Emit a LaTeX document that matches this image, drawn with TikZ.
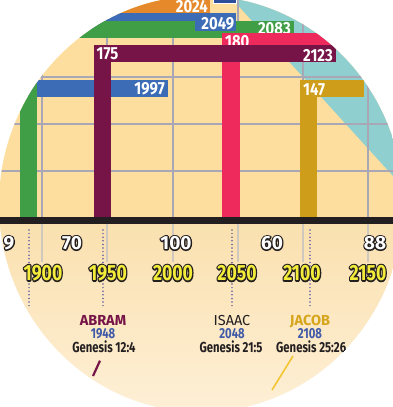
\documentclass[tikz,border=0pt]{standalone}
\usepackage{fontspec}
\setmainfont{Fira Sans}
\usetikzlibrary{calc}
\definecolor{peach}{HTML}{FDDE9E}
\definecolor{peachlow}{HTML}{FAE0AE}
\definecolor{peachbot}{HTML}{FEF0D8}
\definecolor{tealc}{HTML}{8FCFCF}
\definecolor{gridc}{HTML}{A9A6B6}
\definecolor{orangec}{HTML}{E5892B}
\definecolor{navyc}{HTML}{2E4D9B}
\definecolor{bluec}{HTML}{3C6CB6}
\definecolor{greenc}{HTML}{3F9E46}
\definecolor{redc}{HTML}{EE2A5C}
\definecolor{maroonc}{HTML}{761448}
\definecolor{goldc}{HTML}{CE9D1A}
\definecolor{axisc}{HTML}{231F20}
\definecolor{dotc}{HTML}{5C5AA6}
\definecolor{yearc}{HTML}{F3EC3A}
\definecolor{namebluec}{HTML}{3F5AA8}
\definecolor{jacobc}{HTML}{D6A51B}
\definecolor{jlinec}{HTML}{F2C531}
\definecolor{tickc}{HTML}{CFC8BE}
\newcommand{\cnd}[2][0.8]{\scalebox{#1}[1]{#2}}
% outlined text: #1 stroke width, #2 fill colour, #3 text
\newcommand{\outtxt}[3]{%
  \rlap{\textcolor{axisc}{\special{pdf:literal direct 1 j #1 w 2 Tr}#3\special{pdf:literal direct 0 Tr}}}%
  \textcolor{#2}{#3}%
}
\tikzset{
  bandlbl/.style={inner sep=0pt, text=white, font=\fontsize{17.5}{17.5}\selectfont\bfseries},
  agelbl/.style={inner sep=0pt, font=\fontsize{19}{19}\selectfont\bfseries},
  yearlbl/.style={inner sep=0pt, font=\fontsize{22}{22}\selectfont\bfseries},
  namelbl/.style={inner sep=0pt, text height=10pt, text depth=0pt, font=\fontsize{14.5}{14.5}\selectfont\bfseries},
  reflbl/.style={inner sep=0pt, text height=10pt, text depth=0pt, font=\fontsize{14.5}{14.5}\selectfont\bfseries, text=axisc},
  gridline/.style={gridc, line width=1.2pt},
  tickline/.style={tickc, line width=1.2pt},
  dotline/.style={dotc, line width=1.7pt, line cap=round, dash pattern=on 0pt off 3.6pt},
}
\begin{document}
\begin{tikzpicture}[x=1pt,y=-1pt]
\useasboundingbox (0,0) rectangle (393,407);
\fill[white] (0,0) rectangle (393,407);
\begin{scope}
\clip (201,204) ellipse [x radius=202, y radius=208];
% backgrounds
\fill[peach] (-10,-20) rectangle (410,220);
\shade[top color=peachlow,bottom color=peachbot] (-10,220) rectangle (410,420);
\fill[tealc] (215,-20) -- (233,0) -- (393,176) -- (430,216) -- (430,-20) -- cycle;
% grid
\foreach \gx in {42,107,173,238,303,368}{
  \draw[gridline] (\gx,-20) -- (\gx,217);
  \draw[tickline] (\gx,223.5) -- (\gx,262);
}
\foreach \gy in {77,124,171}{
  \draw[gridline] (-10,\gy) -- (410,\gy);
}
% bands
\fill[orangec] (-10,-20) rectangle (210,15);
\node[bandlbl, anchor=east] (l2024) at (208,7) {\cnd[0.85]{2024}};
\fill[navyc, draw=white, line width=0.8pt] (213,-20) rectangle (236,3);
\fill[bluec] (-10,13) rectangle (236,30);
\fill[bluec] (-10,80) rectangle (168,97);
\node[bandlbl, anchor=east] (l1997) at (165,89) {\cnd[0.85]{1997}};
\fill[greenc] (-10,21) rectangle (294,38);
\fill[greenc] (20,21) rectangle (37,217);
\node[bandlbl, anchor=east] (l2083) at (291,28.5) {\cnd[0.85]{2083}};
\fill[bluec] (195,15) rectangle (236,31);
\node[bandlbl, anchor=east] (l2049) at (234.5,23.5) {\cnd[0.85]{2049}};
\fill[redc] (222,33) rectangle (420,47);
\fill[redc] (222,33) rectangle (240,217);
\node[bandlbl, anchor=west] (l180) at (225,41.5) {\cnd[0.85]{180}};
\fill[maroonc] (94,45) rectangle (336,62);
\fill[maroonc] (94,45) rectangle (111,217);
\node[bandlbl, anchor=west] (l175) at (96.5,54) {\cnd[0.85]{175}};
\node[bandlbl, anchor=east] (l2123) at (333,56) {\cnd[0.85]{2123}};
\fill[goldc] (300,80) rectangle (364,97);
\fill[goldc] (300,80) rectangle (317,217);
\node[bandlbl, anchor=west] (l147) at (303,89.5) {\cnd[0.85]{147}};
% axis
\fill[axisc] (-10,216.5) rectangle (410,223.5);
% dotted lines
\foreach \dx in {29,103,232,310}{
  \draw[dotline] (\dx,230) -- (\dx,308);
}
% ages
\node[agelbl] (a9) at (9,243) {\outtxt{2.6}{white}{9}};
\node[agelbl] (a70) at (72,243) {\outtxt{2.6}{white}{70}};
\node[agelbl] (a100) at (176,243) {\outtxt{2.6}{white}{100}};
\node[agelbl] (a60) at (272,243) {\outtxt{2.6}{white}{60}};
\node[agelbl] (a88) at (375,243) {\outtxt{2.6}{white}{88}};
% years
\node[yearlbl] (y1900) at (43,273) {\cnd[0.8]{\outtxt{3}{yearc}{1900}}};
\node[yearlbl] (y1950) at (108,273) {\cnd[0.8]{\outtxt{3}{yearc}{1950}}};
\node[yearlbl] (y2000) at (173,273) {\cnd[0.8]{\outtxt{3}{yearc}{2000}}};
\node[yearlbl] (y2050) at (237,273) {\cnd[0.8]{\outtxt{3}{yearc}{2050}}};
\node[yearlbl] (y2100) at (302,273) {\cnd[0.8]{\outtxt{3}{yearc}{2100}}};
\node[yearlbl] (y2150) at (368,273) {\cnd[0.8]{\outtxt{3}{yearc}{2150}}};
% people
\node[namelbl, text=maroonc] (abram) at (103,320) {ABRAM};
\node[namelbl, text=namebluec] (abramy) at (103,333) {\cnd[0.78]{1948}};
\node[reflbl] (abramg) at (104,347.5) {\cnd[0.78]{Genesis 12:4}};
\node[namelbl, text=axisc, font=\fontsize{14.5}{14.5}\selectfont] (isaac) at (232,320) {ISAAC};
\node[namelbl, text=namebluec] (isaacy) at (232,333) {\cnd[0.78]{2048}};
\node[reflbl] (isaacg) at (231,347.5) {\cnd[0.78]{Genesis 21:5}};
\node[namelbl, text=jacobc] (jacob) at (310,320) {JACOB};
\node[namelbl, text=namebluec] (jacoby) at (310,333) {\cnd[0.78]{2108}};
\node[reflbl, anchor=west] (jacobg) at (276,347.5) {\cnd[0.78]{Genesis 25:26}};
\coordinate (abramend) at (93,376);
\coordinate (jacobend) at (272,390);
\draw[maroonc, line width=2.2pt] ($(abramg.south)+(-4,8)$) coordinate (abramstart) -- (abramend);
\draw[jlinec, line width=1.6pt] (293,356) coordinate (jacobstart) -- (jacobend);
\end{scope}
\end{tikzpicture}
\end{document}
